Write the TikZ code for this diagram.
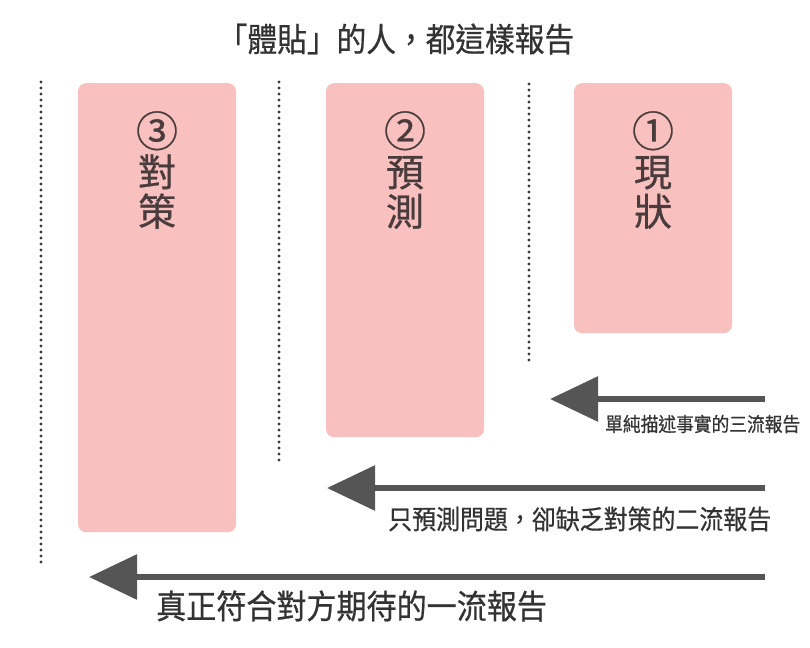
\documentclass[tikz,border=0pt]{standalone}
\usepackage{fontspec}
\usetikzlibrary{arrows.meta}
\newfontfamily\cjk[FakeBold=0.7]{Noto Sans CJK TC}
\newfontfamily\cjkn[FakeStretch=0.9,FakeBold=0.6]{Noto Sans CJK TC}
\definecolor{boxpink}{HTML}{F9C0C0}
\definecolor{boxtext}{HTML}{4A3C3C}
\definecolor{arrowgray}{HTML}{555555}
\definecolor{labeltext}{HTML}{333333}
\definecolor{dotgray}{HTML}{3A3A3A}
\tikzset{
  stage/.style={fill=boxpink, rounded corners=8pt, minimum width=158pt, anchor=north, inner sep=0pt},
  stagetext/.style={text=boxtext, font=\cjk\fontsize{38}{39.5}\selectfont, align=center, anchor=north, inner sep=0pt},
  divider/.style={draw=dotgray, line width=3.4pt, line cap=round, dash pattern=on 0pt off 6pt},
  flow/.style={draw=arrowgray, line width=6pt, -{Triangle[length=48pt,width=44pt]}},
  flowlabel/.style={text=labeltext, anchor=west, inner sep=0pt},
}
\newcommand{\circnum}[1]{{\fontsize{42}{39.5}\selectfont #1}}
\begin{document}
\begin{tikzpicture}[x=1pt,y=-1pt]
\useasboundingbox (0,0) rectangle (810,647);
% title
\node[text=labeltext, font=\cjkn\fontsize{33}{34}\selectfont, inner sep=0pt] (title) at (396,39) {「體貼」的人，都這樣報告};
% boxes
\node[stage, minimum height=449pt] (b3) at (157,83) {};
\node[stage, minimum height=354pt] (b2) at (405,83) {};
\node[stage, minimum height=250pt] (b1) at (653,83) {};
\node[stagetext] (t3) at (157,111) {\circnum{③}\\對\\策};
\node[stagetext] (t2) at (405,111) {\circnum{②}\\預\\測};
\node[stagetext] (t1) at (653,111) {\circnum{①}\\現\\狀};
% dotted dividers
\coordinate (d1a) at (41,82); \coordinate (d1b) at (41,566);
\coordinate (d2a) at (279,82); \coordinate (d2b) at (279,464);
\coordinate (d3a) at (529,84); \coordinate (d3b) at (529,364);
\draw[divider] (d1a) -- (d1b);
\draw[divider] (d2a) -- (d2b);
\draw[divider] (d3a) -- (d3b);
% arrows
\coordinate (a1s) at (765,399); \coordinate (a1e) at (550,399);
\coordinate (a2s) at (765,488); \coordinate (a2e) at (327,488);
\coordinate (a3s) at (765,577); \coordinate (a3e) at (89,577);
\draw[flow] (a1s) -- (a1e);
\draw[flow] (a2s) -- (a2e);
\draw[flow] (a3s) -- (a3e);
% labels
\node[flowlabel, font=\cjkn\fontsize{19.7}{21}\selectfont] (l1) at (605,424) {單純描述事實的三流報告};
\node[flowlabel, font=\cjkn\fontsize{26.6}{28}\selectfont] (l2) at (388,519) {只預測問題，卻缺乏對策的二流報告};
\node[flowlabel, font=\cjkn\fontsize{33.4}{34}\selectfont] (l3) at (156,606) {真正符合對方期待的一流報告};
\end{tikzpicture}
\end{document}
